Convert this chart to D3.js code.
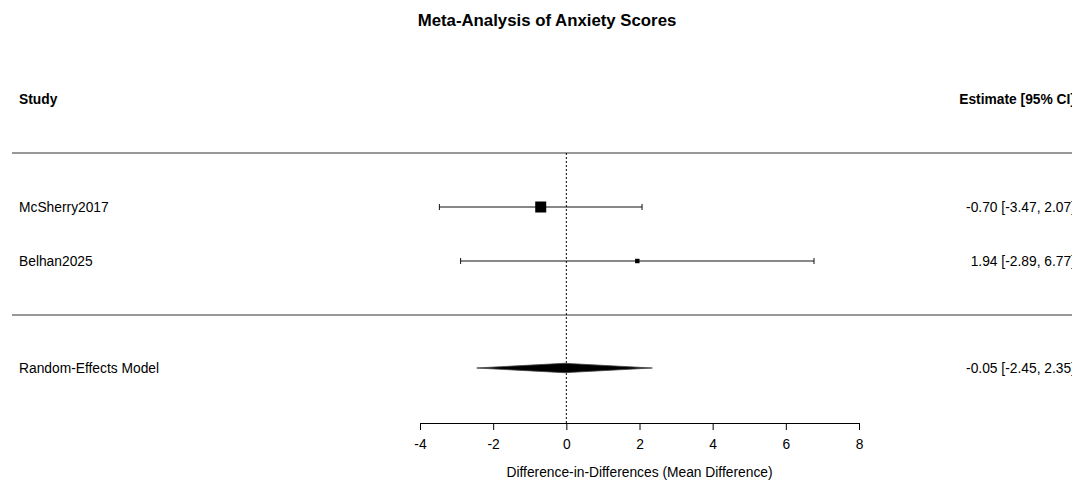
<!DOCTYPE html>
<html><head><meta charset="utf-8">
<script src="https://cdn.jsdelivr.net/npm/d3@7"></script>
<style>body{margin:0;background:#fff}svg{display:block}text{font-family:"Liberation Sans",Arial,sans-serif;fill:#000}</style>
</head><body><svg id="c" width="1072" height="480"></svg>
<script>
const studies = ["McSherry2017", "Belhan2025"];
const estimates = [-0.70, 1.94];
const lower = [-3.47, -2.89];
const upper = [2.07, 6.77];
const weights = [0.86, 0.14];
const pooledLabel = "Random-Effects Model";
const pooled = {est: -0.05, lo: -2.45, hi: 2.35};
const xTicks = [-4, -2, 0, 2, 4, 6, 8];
const f2 = d3.format(".2f");
const fmt = v => f2(v).replace("\u2212", "-");
const fs = "13.8px";

const svg = d3.select("#c");
const x = d3.scaleLinear().domain([-4, 8]).range([420, 859]);
const rowY = [207, 261];
const pooledY = 368;

svg.append("text").attr("x", 547).attr("y", 26).attr("text-anchor", "middle")
  .style("font-size", "16.8px").style("font-weight", "bold").text("Meta-Analysis of Anxiety Scores");

svg.append("text").attr("x", 19).attr("y", 104).style("font-size", fs).style("font-weight", "bold").text("Study");
svg.append("text").attr("x", 1075).attr("y", 104).attr("text-anchor", "end").style("font-size", fs).style("font-weight", "bold").text("Estimate [95% CI]");

[153, 315].forEach(y => svg.append("line").attr("x1", 12).attr("x2", 1072).attr("y1", y).attr("y2", y).attr("stroke", "#333").attr("stroke-width", 1));

// reference line
svg.append("line").attr("x1", x(0)).attr("x2", x(0)).attr("y1", 153).attr("y2", 423)
  .attr("stroke", "#000").attr("stroke-dasharray", "2,2").attr("stroke-width", 1);

// studies
studies.forEach((s, i) => {
  const y = rowY[i];
  svg.append("text").attr("x", 19).attr("y", y + 5).style("font-size", fs).text(s);
  svg.append("text").attr("x", 1075).attr("y", y + 5).attr("text-anchor", "end").style("font-size", fs)
    .text(`${fmt(estimates[i])} [${fmt(lower[i])}, ${fmt(upper[i])}]`);
  svg.append("line").attr("x1", x(lower[i])).attr("x2", x(upper[i])).attr("y1", y).attr("y2", y).attr("stroke", "#111");
  [lower[i], upper[i]].forEach(v => svg.append("line").attr("x1", x(v)).attr("x2", x(v)).attr("y1", y - 3).attr("y2", y + 3).attr("stroke", "#111"));
  const sz = Math.max(3, 11 * Math.sqrt(weights[i] / d3.max(weights)));
  svg.append("rect").attr("x", x(estimates[i]) - sz / 2).attr("y", y - sz / 2).attr("width", sz).attr("height", sz).attr("fill", "#000");
});

// pooled
svg.append("text").attr("x", 19).attr("y", pooledY + 5).style("font-size", fs).text(pooledLabel);
svg.append("text").attr("x", 1075).attr("y", pooledY + 5).attr("text-anchor", "end").style("font-size", fs)
  .text(`${fmt(pooled.est)} [${fmt(pooled.lo)}, ${fmt(pooled.hi)}]`);
svg.append("polygon").attr("points", [
  [x(pooled.lo), pooledY], [x(pooled.est), pooledY - 4.7], [x(pooled.hi), pooledY], [x(pooled.est), pooledY + 4.7]
].map(p => p.join(",")).join(" ")).attr("fill", "#000").attr("stroke", "#444").attr("stroke-width", 0.8);

// axis
const ax = svg.append("g").attr("transform", "translate(0,423)")
  .call(d3.axisBottom(x).tickValues(xTicks).tickSize(7).tickPadding(9).tickFormat(d => String(d)));
ax.select(".domain").attr("stroke", "#000");
ax.selectAll(".tick line").attr("stroke", "#000");
ax.selectAll("text").style("font-size", fs).style("font-family", '"Liberation Sans",Arial,sans-serif');

svg.append("text").attr("x", x(2)).attr("y", 477).attr("text-anchor", "middle").style("font-size", fs)
  .text("Difference-in-Differences (Mean Difference)");
</script></body></html>
